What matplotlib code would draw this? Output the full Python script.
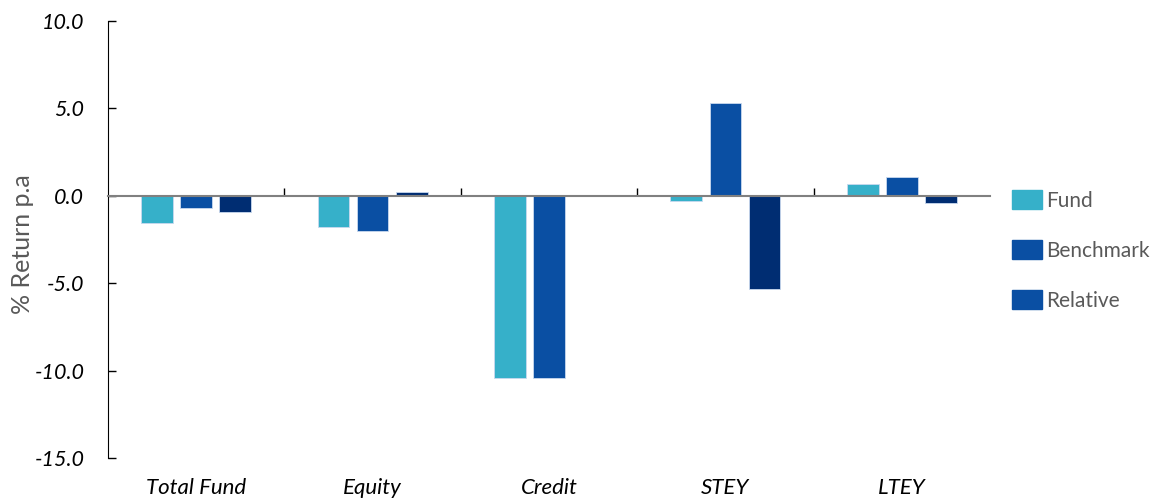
import matplotlib.pyplot as plt
import numpy as np
from matplotlib.patches import Patch
from matplotlib.transforms import blended_transform_factory

# values
categories = ["Total Fund", "Equity", "Credit", "STEY", "LTEY"]
fund = [-1.55, -1.8, -10.4, -0.3, 0.65]
benchmark = [-0.7, -2.0, -10.4, 5.3, 1.05]
relative = [-0.95, 0.2, 0.0, -5.35, -0.4]

c_fund = "#36b0c9"
c_bench = "#0a4fa3"
c_rel = "#002d72"

plt.rcParams["font.family"] = ["Lato", "DejaVu Sans"]

fig = plt.figure(figsize=(11.56, 5.01), dpi=100)
ax = fig.add_axes([108 / 1156, 1 - 458 / 501, (990 - 108) / 1156, (458 - 21) / 501])

x = np.arange(len(categories))
w = 0.18
step = 0.222
for off, vals, col in [(-step, fund, c_fund), (0, benchmark, c_bench), (step, relative, c_rel)]:
    ax.bar(x + off, vals, width=w, color=col, edgecolor="#c9d9ee", linewidth=0.6, zorder=2)

ax.set_xlim(-0.5, 4.5)
ax.set_ylim(-15, 10)
ax.set_yticks([10, 5, 0, -5, -10, -15])
ax.set_yticklabels(["10.0", "5.0", "0.0", "-5.0", "-10.0", "-15.0"], fontsize=15.5, style="italic")
ax.tick_params(axis="y", direction="in", length=6, width=1, pad=17)

# zero line acts as the category axis
ax.spines["bottom"].set_position(("data", 0))
ax.spines["bottom"].set_color("#808080")
ax.spines["bottom"].set_linewidth(1.5)
ax.spines["bottom"].set_zorder(3)
ax.set_xticks([0.5, 1.5, 2.5, 3.5])
ax.set_xticklabels([])
ax.tick_params(axis="x", direction="in", length=6, width=1, color="black")
ax.spines["top"].set_visible(False)
ax.spines["right"].set_visible(False)

tr = blended_transform_factory(ax.transData, ax.transAxes)
for i, cat in enumerate(categories):
    ax.text(i, -0.068, cat, transform=tr, ha="center", va="center", fontsize=16, style="italic")

ax.set_ylabel("% Return p.a", fontsize=18, color="#595959")
ax.yaxis.set_label_coords(-0.084, 0.49)

handles = [Patch(color=c_fund), Patch(color=c_bench), Patch(color=c_bench)]
fig.legend(handles, ["Fund", "Benchmark", "Relative"], loc="upper left",
           bbox_to_anchor=(1012 / 1156, 1 - 190 / 501), frameon=False,
           fontsize=15, labelcolor="#595959", handlelength=1.45, handleheight=1.06,
           labelspacing=1.4, handletextpad=0.2, borderpad=0, borderaxespad=0)

fig.savefig("out.png", dpi=100)
